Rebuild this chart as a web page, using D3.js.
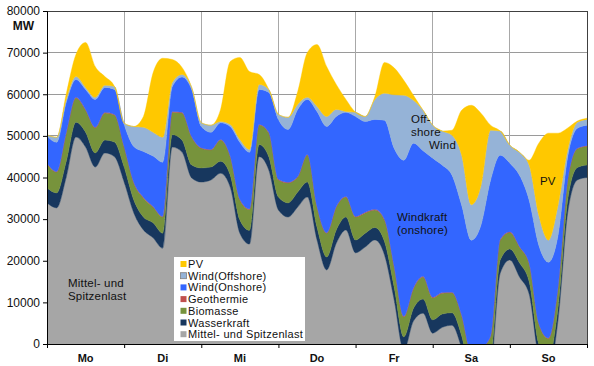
<!DOCTYPE html>
<html><head><meta charset="utf-8">
<script src="https://cdn.jsdelivr.net/npm/d3@7"></script>
<style>
body{margin:0;background:#fff}
svg{display:block;font-family:"Liberation Sans",Arial,sans-serif}
</style>
</head><body>
<svg id="chart" width="594" height="366"></svg>
<script>
// ---- data ----
const hours = [0,3,6,9,12,15,18,21,24,27,30,33,36,39,42,45,48,51,54,57,60,63,66,69,72,75,78,81,84,87,90,93,96,99,102,105,108,111,114,117,120,123,126,129,132,135,138,141,144,147,150,153,156,159,162,165,168];
const days = ["Mo","Di","Mi","Do","Fr","Sa","So"];
const dayTicks = [0,24,48,72,96,120,144,168];
const yTicks = [0,10000,20000,30000,40000,50000,60000,70000,80000];

const mittel = [33900,32700,40100,49700,47300,42500,45900,45000,38900,31500,27400,25500,23000,47300,46100,39900,38900,39400,41000,37700,26600,24000,45000,41800,32200,30500,32900,35300,25000,17800,24200,27400,21900,23300,25000,21400,10600,-1500,5500,7400,2600,4000,4500,-1000,-10000,-9000,-6000,17000,20200,16100,12000,-3000,-6500,5800,31500,39400,40000];
const wasser = [3600,3600,3800,3600,3600,3400,3100,3500,3600,3100,3100,3600,3600,3000,2900,3100,3400,3100,2900,2900,3200,3300,2900,3200,3100,3400,3600,3600,3100,3100,3200,3100,3100,3300,3000,3200,3100,3200,3000,3400,3200,3200,3000,3000,3000,3000,3000,3200,2600,3400,3000,3000,3000,3000,3100,3000,3000];
const biomasse = [5800,5000,6800,5800,5300,6000,6500,6500,4800,4100,4600,3800,3900,5400,6500,6700,4700,4100,5100,4400,4800,5000,4700,5700,4100,4800,3600,6500,4800,5700,5500,4800,5500,4900,4200,5200,4800,4800,4800,5300,5300,5000,4800,4800,4800,4800,4800,4800,4000,3800,4300,4800,4800,4800,4650,4500,4500];
const geothermie = [150,150,150,150,150,150,150,150,150,150,150,150,150,150,150,150,150,150,150,150,150,150,150,150,150,150,150,150,150,150,150,150,150,150,150,150,150,150,150,150,150,150,150,150,150,150,150,150,150,150,150,150,150,150,150,150,150];
const windOnshore = [6500,7000,7200,4300,4800,6700,6000,6000,5300,8600,11000,12100,13000,6000,8500,11300,5100,4100,4000,7100,13700,13600,8400,9600,14400,12700,16100,13200,22800,25500,21600,20200,24000,21800,21600,23800,28400,37500,34800,30200,33400,30600,28100,26400,27000,29600,37400,20200,16500,17100,15100,18800,18200,12400,5600,4800,4900];
const windOffshore = [300,1200,700,700,500,500,500,700,300,4800,5800,5700,6000,1000,600,500,900,1700,300,500,700,700,1200,700,1200,2900,1200,500,1200,2400,1700,200,1000,1200,4800,6500,12800,15600,10300,9700,7900,8200,9600,12000,8500,9400,12000,5800,4300,5500,8400,7200,5300,7200,1600,1400,1400];
const pv = [0,0,1400,5300,10800,7400,2100,0,0,0,2600,14300,19000,5500,1700,0,0,0,2900,15100,19700,18700,2400,0,0,0,3100,10800,14900,12000,6000,2900,0,0,700,7400,6500,3600,1200,0,0,0,1200,10800,23900,17500,1200,0,0,0,1200,17300,25700,17300,5300,300,300];

const keys = ["mittel","wasser","biomasse","geothermie","windOnshore","windOffshore","pv"];
const labels = {mittel:"Mittel- und Spitzenlast",wasser:"Wasserkraft",biomasse:"Biomasse",geothermie:"Geothermie",windOnshore:"Wind(Onshore)",windOffshore:"Wind(Offshore)",pv:"PV"};
const colors = {mittel:"#a6a6a6",wasser:"#17375e",biomasse:"#77933c",geothermie:"#c0504d",windOnshore:"#3366ff",windOffshore:"#95b3d7",pv:"#ffc800"};
const rows = hours.map((h,i)=>({h, mittel:mittel[i], wasser:wasser[i], biomasse:biomasse[i], geothermie:geothermie[i], windOnshore:windOnshore[i], windOffshore:windOffshore[i], pv:pv[i]}));

// ---- layout ----
const L=47, R=587, T=11, B=344;
const svg = d3.select("#chart");
const x = d3.scaleLinear().domain([0,168]).range([L,R]);
const y = d3.scaleLinear().domain([0,80000]).range([B,T]);

// gridlines
svg.append("g").selectAll("line").data(yTicks.filter(v=>v>0 && v<80000)).join("line")
  .attr("x1",L).attr("x2",R).attr("y1",d=>y(d)).attr("y2",d=>y(d))
  .attr("stroke","#9a9a9a").attr("stroke-width",1).attr("shape-rendering","crispEdges");
svg.append("g").selectAll("line").data(dayTicks.filter(v=>v>0 && v<168)).join("line")
  .attr("x1",d=>x(d)).attr("x2",d=>x(d)).attr("y1",T).attr("y2",B)
  .attr("stroke","#a8a8a8").attr("stroke-width",1).attr("shape-rendering","crispEdges");

// areas
svg.append("clipPath").attr("id","plot").append("rect").attr("x",L).attr("y",T).attr("width",R-L).attr("height",B-T);
const stack = d3.stack().keys(keys).offset(d3.stackOffsetNone);
const layers = stack(rows);
const area = d3.area().x(d=>x(d.data.h)).y0(d=>y(d[0])).y1(d=>y(d[1])).curve(d3.curveMonotoneX);
svg.append("g").attr("clip-path","url(#plot)").selectAll("path").data(layers).join("path")
  .attr("d",area).attr("fill",d=>colors[d.key]).attr("stroke",d=>colors[d.key]).attr("stroke-width",0.4);

// borders
svg.append("line").attr("x1",L).attr("x2",R).attr("y1",T).attr("y2",T).attr("stroke","#404040").attr("shape-rendering","crispEdges");
svg.append("line").attr("x1",R).attr("x2",R).attr("y1",T).attr("y2",B).attr("stroke","#404040").attr("shape-rendering","crispEdges");

// axes
const yAxis = svg.append("g").attr("transform",`translate(${L},0)`)
  .call(d3.axisLeft(y).tickValues(yTicks).tickFormat(d3.format("d")).tickSize(4).tickPadding(3));
yAxis.select(".domain").attr("stroke","#000");
yAxis.selectAll("line").attr("stroke","#000");
yAxis.selectAll("text").attr("font-size",12).attr("fill","#111").attr("font-family","Liberation Sans, Arial, sans-serif");

const xAxis = svg.append("g").attr("transform",`translate(0,${B})`)
  .call(d3.axisBottom(x).tickValues(dayTicks).tickFormat("").tickSize(4).tickSizeOuter(0));
xAxis.select(".domain").attr("stroke","#000");
xAxis.selectAll("line").attr("stroke","#000");

svg.append("g").selectAll("text").data(days).join("text")
  .attr("x",(d,i)=>x(dayTicks[i]+12)).attr("y",362).attr("text-anchor","middle")
  .attr("font-size",11).attr("font-weight","bold").attr("fill","#111").text(d=>d);

svg.append("text").attr("x",23.5).attr("y",29.5).attr("text-anchor","middle")
  .attr("font-size",12).attr("font-weight","bold").attr("fill","#111").text("MW");

// annotations
const ann = [
  {t:"Mittel- und", x:68, y:287},
  {t:"Spitzenlast", x:68, y:300},
  {t:"Off-", x:411, y:123},
  {t:"shore", x:411, y:136},
  {t:"Wind", x:429, y:149},
  {t:"Windkraft", x:397, y:221},
  {t:"(onshore)", x:397, y:234},
  {t:"PV", x:540, y:185}
];
svg.append("g").selectAll("text").data(ann).join("text")
  .attr("x",d=>d.x).attr("y",d=>d.y).attr("font-size",11.5).attr("letter-spacing",0.2)
  .attr("fill","#111").text(d=>d.t);

// legend
const legKeys = ["pv","windOffshore","windOnshore","geothermie","biomasse","wasser","mittel"];
const lg = svg.append("g");
lg.append("rect").attr("x",174).attr("y",257).attr("width",131).attr("height",84).attr("fill","#fff");
const le = lg.selectAll("g").data(legKeys).join("g")
  .attr("transform",(d,i)=>`translate(0,${264+i*11.7})`);
le.append("rect").attr("x",180.5).attr("y",-3).attr("width",6).attr("height",6)
  .attr("fill",d=>colors[d]).attr("stroke",d=>d==="windOffshore"?"#7f7f7f":"none").attr("stroke-width",0.8);
le.append("text").attr("x",188).attr("y",4).attr("font-size",11).attr("letter-spacing",0.3)
  .attr("fill","#111").text(d=>labels[d]);
</script>
</body></html>
